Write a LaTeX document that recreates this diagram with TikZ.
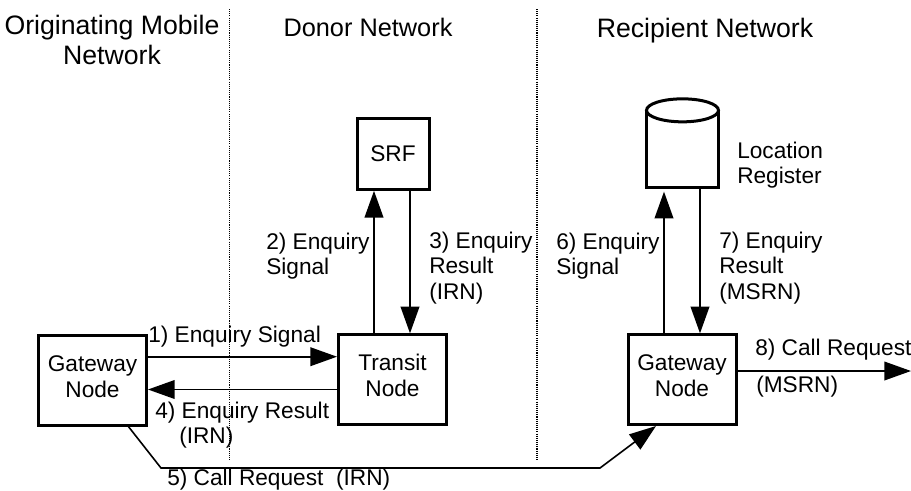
\documentclass[tikz,border=0pt]{standalone}
\usepackage{fontspec}
\setmainfont{Liberation Sans}
\usetikzlibrary{arrows.meta}
\tikzset{
  box/.style={draw,line width=2.25pt,minimum width=81pt,minimum height=67pt,align=center,text depth=6pt,font=\fontsize{17}{19.5}\selectfont},
  lbl/.style={align=left,anchor=west,inner sep=0pt,font=\fontsize{17}{19}\selectfont},
  head/.style={align=center,inner sep=0pt,font=\fontsize{20}{23}\selectfont},
  flow/.style={line width=1.2pt,-{Triangle[length=20pt,width=14pt]}},
  divider/.style={line width=0.9pt,dash pattern=on 0.8pt off 0.8pt}
}
\begin{document}
\begin{tikzpicture}[x=0.75pt,y=0.75pt,yscale=-1,xscale=1]
    \useasboundingbox (0,0) rectangle (911,490);
    %network borders
    \coordinate (divAtop) at (229.5,9);
    \coordinate (divAbot) at (229.5,460);
    \coordinate (divBtop) at (537,9);
    \coordinate (divBbot) at (537,460);
    \draw [divider] (divAtop) -- (divAbot);
    \draw [divider] (divBtop) -- (divBbot);
    %headings
    \node [head] (origin) at (112,40) {Originating Mobile\\Network};
    \node [head,font=\fontsize{19}{23}\selectfont] (donor) at (368,27) {Donor Network};
    \node [head] (recipient) at (705,31) {Recipient Network};
    %boxes
    \node [box] (gwLeft) at (92.5,380.5) {Gateway\\Node};
    \node [box] (transit) at (392.5,379.5) {Transit\\Node};
    \node [box,text depth=0pt,minimum width=54pt,minimum height=53pt] (srf) at (393,154) {SRF};
    \node [box] (gwRight) at (682,379.5) {Gateway\\Node};
    %location register
    \node [minimum width=54pt,minimum height=58pt,inner sep=0pt,outer sep=0pt] (reg) at (682.5,149) {};
    \draw [line width=2.25pt] (reg.north west) -- (reg.south west) -- (reg.south east) -- (reg.north east);
    \draw [line width=2.25pt,fill=white] (reg.north) ellipse (36 and 11.5);
    \node [lbl] (regLabel) at (737,165) {Location\\Register};
    %connector rails
    \coordinate (railB) at (374,0);
    \coordinate (railC) at (410,0);
    \coordinate (railF) at (664,0);
    \coordinate (railG) at (700,0);
    \coordinate (rowA) at (0,356.7);
    \coordinate (rowD) at (0,389.5);
    \coordinate (rowH) at (0,371);
    \coordinate (exit) at (911,371);
    \coordinate (bendA) at (161,468);
    \coordinate (bendB) at (600,468);
    \coordinate (leave) at (128,426);
    \coordinate (enter) at (656,426);
    %connectors
    \draw [flow] (gwLeft.east |- rowA) -- (transit.west |- rowA);
    \draw [flow] (transit.west |- rowD) -- (gwLeft.east |- rowD);
    \draw [flow] (railB |- transit.north) -- (railB |- srf.south);
    \draw [flow] (railC |- srf.south) -- (railC |- transit.north);
    \draw [flow,shorten >=3pt] (railF |- gwRight.north) -- (railF |- reg.south);
    \draw [flow] (railG |- reg.south) -- (railG |- gwRight.north);
    \draw [flow] (gwRight.east |- rowH) -- (exit);
    \draw [flow] (leave) -- (bendA) -- (bendB) -- (enter);
    %connector labels
    \node [lbl] (l1) at (148,337) {1) Enquiry Signal};
    \node [lbl] (l2) at (266,256) {2) Enquiry\\Signal};
    \node [lbl] (l3) at (429,268) {3) Enquiry\\Result\\(IRN)};
    \node [lbl] (l4) at (155,425) {4) Enquiry Result\\\hspace*{18pt}(IRN)};
    \node [lbl] (l5) at (167,479.5) {5) Call Request~~(IRN)};
    \node [lbl] (l6) at (556,256) {6) Enquiry\\Signal};
    \node [lbl] (l7) at (719,268) {7) Enquiry\\Result\\(MSRN)};
    \node [lbl] (l8) at (755,350) {8) Call Request};
    \node [lbl] (l8b) at (756,387) {(MSRN)};
\end{tikzpicture}
\end{document}
